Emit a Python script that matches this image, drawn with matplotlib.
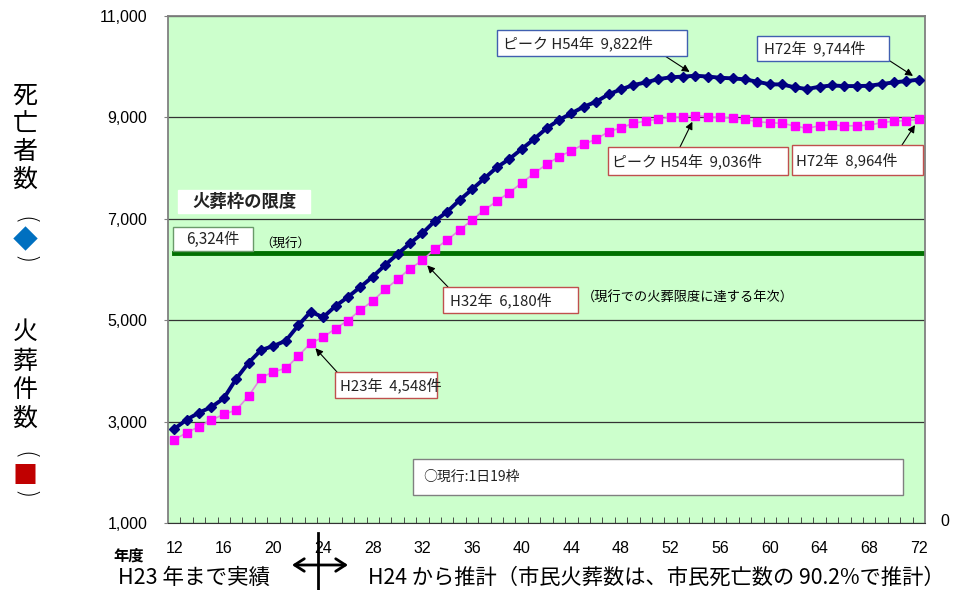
import numpy as np
import matplotlib.pyplot as plt
from matplotlib.patches import Rectangle

plt.rcParams['font.family'] = ['Noto Sans CJK JP', 'DejaVu Sans']

# 年度 (平成) と死亡者数・火葬件数
years = list(range(12, 73))
deaths = [2854, 3038, 3176, 3288, 3460, 3846, 4162, 4412, 4491, 4596,
          4899, 5168, 5057, 5280, 5458, 5655, 5858, 6089, 6305, 6516,
          6714, 6956, 7140, 7370, 7581, 7798, 8015, 8179, 8376, 8573,
          8784, 8948, 9080, 9210, 9309, 9455, 9553, 9638, 9690, 9755,
          9790, 9805, 9822, 9806, 9782, 9770, 9750, 9703, 9652, 9650,
          9593, 9560, 9605, 9630, 9618, 9618, 9624, 9658, 9691, 9717,
          9744]
cremations = [2640, 2782, 2900, 3032, 3144, 3229, 3505, 3866, 3984, 4051,
              4294, 4548, 4663, 4836, 4994, 5201, 5379, 5609, 5807, 6016,
              6180, 6404, 6582, 6779, 6976, 7173, 7351, 7518, 7706, 7897,
              8074, 8224, 8343, 8469, 8573, 8717, 8796, 8883, 8928, 8968,
              9001, 9013, 9036, 9013, 9001, 8981, 8962, 8914, 8895, 8883,
              8830, 8784, 8835, 8849, 8835, 8835, 8849, 8895, 8928, 8934,
              8964]
limit = 6324
yticks = [1000, 3000, 5000, 7000, 9000, 11000]
xlabels = list(range(12, 73, 4))

W, H = 967, 590
fig = plt.figure(figsize=(W / 100, H / 100), dpi=100)


def fp(x, y):
    # pixel position (from top-left) -> figure fraction
    return (x / W, 1 - y / H)


ax = fig.add_axes([168 / W, 1 - 523 / H, (925 - 168) / W, (523 - 16) / H])
ax.set_facecolor('#CCFFCC')

x = np.arange(len(years))
ax.plot(x, cremations, color='#E088E0', lw=1.2, marker='s', ms=5.3,
        mfc='#FF00FF', mec='#FF00FF', zorder=3)
ax.plot(x, deaths, color='#000080', lw=2.8, marker='D', ms=5,
        mfc='#000080', mec='#000080', zorder=4)
ax.axhline(limit, xmin=0.5 / len(years), xmax=1, color='#007000', lw=3.5, zorder=2)

ax.set_xlim(-0.5, len(years) - 0.5)
ax.set_ylim(1000, 11000)
ax.set_yticks(yticks)
ax.set_yticklabels(['{:,}'.format(v) for v in yticks],
                   family='Liberation Sans', fontsize=11.5)
ax.set_xticks([years.index(v) for v in xlabels])
ax.set_xticklabels([str(v) for v in xlabels], family='Liberation Sans', fontsize=11.5)
ax.set_xticks(np.arange(len(years) - 1) + 0.5, minor=True)
ax.tick_params(axis='x', which='major', length=0, pad=13)
ax.tick_params(axis='x', which='minor', direction='in', length=4, color='#333333')
ax.tick_params(axis='y', length=3, color='#808080', pad=12)
ax.yaxis.grid(True, color='#333333', lw=0.9)
ax.set_axisbelow(True)
for s in ['left', 'top', 'right']:
    ax.spines[s].set_color('#808080')
    ax.spines[s].set_linewidth(1.3)
ax.spines['bottom'].set_color('#333333')

fig.text(*fp(945, 522), '0', family='Liberation Sans', fontsize=11.5,
         ha='center', va='center')

# 縦書きの軸ラベル
left_chars = [('死', 96, 'black'), ('亡', 124, 'black'), ('者', 152, 'black'),
              ('数', 180, 'black'), ('◆', 241, '#0070C0'),
              ('火', 332, 'black'), ('葬', 362, 'black'), ('件', 390, 'black'),
              ('数', 419, 'black'), ('■', 476, '#C00000')]
for ch, yy, col in left_chars:
    fig.text(*fp(25, yy), ch, fontsize=18, color=col, ha='center', va='center')
# 縦書きの括弧は横向きの括弧を回転して描く
for yy, ch in [(221, '('), (260, ')'), (456, '('), (495, ')')]:
    fig.text(*fp(25, yy), ch, family='DejaVu Sans', fontsize=17,
             fontweight='light', rotation=-90, ha='center', va='center')


def box(x0, y0, x1, y1, ec, label=None, tx=None, size=10.8, **kw):
    fig.add_artist(Rectangle(fp(x0, y1), (x1 - x0) / W, (y1 - y0) / H,
                             transform=fig.transFigure, fc='white', ec=ec,
                             lw=1.0, zorder=5))
    if label is not None:
        if tx is None:
            fig.text(*fp((x0 + x1) / 2, (y0 + y1) / 2), label, fontsize=size,
                     ha='center', va='center', color='#222222', zorder=6, **kw)
        else:
            fig.text(*fp(tx, (y0 + y1) / 2), label, fontsize=size,
                     ha='left', va='center', color='#222222', zorder=6, **kw)


def pointer(idx, value, tail):
    ax.annotate('', xy=(idx, value), xycoords='data',
                xytext=fp(*tail), textcoords='figure fraction',
                arrowprops=dict(arrowstyle='-|>', color='black', lw=0.8,
                                mutation_scale=11, shrinkA=0, shrinkB=5),
                zorder=5)


box(178, 190, 310, 213, 'white', '火葬枠の限度', size=12.5, weight='bold')
box(173, 227, 253, 251, '#6A9A6A', '6,324件', size=11)
fig.text(*fp(260, 243), '（現行）', fontsize=9, ha='left', va='center')

box(443, 287, 578, 313, '#C0504D', 'H32年  6,180件', tx=450)
fig.text(*fp(582, 298), '（現行での火葬限度に達する年次）', fontsize=9.5,
         ha='left', va='center')
pointer(years.index(32), cremations[years.index(32)], (448, 287))

box(335, 372, 437, 398, '#C0504D', 'H23年  4,548件', tx=340)
pointer(years.index(23), cremations[years.index(23)], (337, 372))

box(497, 30, 687, 56, '#4060B0', 'ピーク H54年  9,822件', tx=503)
pointer(years.index(54), deaths[years.index(54)], (665, 56))

box(757, 36, 889, 61, '#4060B0', 'H72年  9,744件', tx=764)
pointer(years.index(72), deaths[years.index(72)], (890, 61))

box(608, 147, 788, 175, '#C0504D', 'ピーク H54年  9,036件', tx=612)
pointer(years.index(54), cremations[years.index(54)], (680, 147))

box(792, 145, 923, 175, '#C0504D', 'H72年  8,964件', tx=796)
pointer(years.index(72), cremations[years.index(72)], (902, 145))

box(413, 459, 903, 495, '#808080', '○現行:1日19枠', tx=423, size=10)

# 下部の説明
fig.text(*fp(129, 556), '年度', fontsize=11, weight='bold', ha='center', va='center')
fig.text(*fp(118, 578), 'H23 年まで実績', fontsize=15.5, ha='left', va='center')
fig.text(*fp(368, 578), 'H24 から推計（市民火葬数は、市民死亡数の 90.2%で推計）',
         fontsize=15.3, ha='left', va='center')
ax.annotate('', xy=fp(348, 565), xycoords='figure fraction',
            xytext=fp(292, 565), textcoords='figure fraction',
            arrowprops=dict(arrowstyle='<->,head_length=0.7,head_width=0.45',
                            color='black', lw=2, shrinkA=0, shrinkB=0),
            annotation_clip=False)
fig.add_artist(plt.Line2D([318 / W, 318 / W], [1 - 533 / H, 1 - 590 / H],
                          transform=fig.transFigure, color='black', lw=2))

fig.savefig('out.png', dpi=100)
